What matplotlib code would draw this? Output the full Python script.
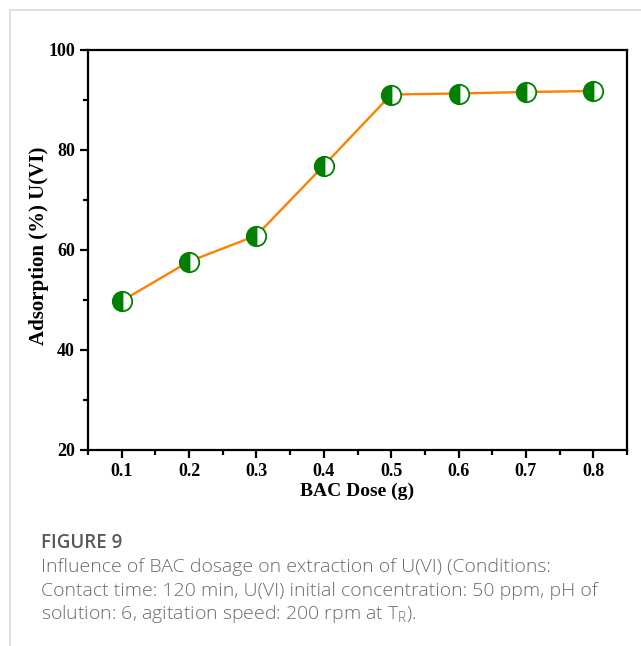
import matplotlib.pyplot as plt
from matplotlib.ticker import MultipleLocator, FormatStrFormatter
from matplotlib.lines import Line2D

# BAC dose vs U(VI) adsorption
dose = [0.1, 0.2, 0.3, 0.4, 0.5, 0.6, 0.7, 0.8]
adsorption = [49.8, 57.7, 62.9, 76.9, 91.1, 91.3, 91.6, 91.8]

caption_title = "FIGURE 9"
caption_lines = [
    "Influence of BAC dosage on extraction of U(VI) (Conditions:",
    "Contact time: 120 min, U(VI) initial concentration: 50 ppm, pH of",
    r"solution: 6, agitation speed: 200 rpm at T$_\mathregular{R}$).",
]

W, H = 641, 646
fig = plt.figure(figsize=(W / 100, H / 100), dpi=100)

# page frame lines (light gray)
fig.add_artist(Line2D([10 / W, 1], [1 - 10 / H, 1 - 10 / H], color="#d9d9d9", lw=1.2))
fig.add_artist(Line2D([10 / W, 10 / W], [0, 1 - 10 / H], color="#d9d9d9", lw=1.2))

ax = fig.add_axes([88 / W, 196 / H, 539 / W, 400 / H])

ax.plot(dose, adsorption, color="#ff8000", lw=1.7, marker="o", markersize=14,
        fillstyle="left", markerfacecolor="#007f00", markerfacecoloralt="white",
        markeredgecolor="#007f00", markeredgewidth=1.3)

ax.set_xlim(0.05, 0.85)
ax.set_ylim(20, 100)
ax.xaxis.set_major_locator(MultipleLocator(0.1))
ax.xaxis.set_minor_locator(MultipleLocator(0.05))
ax.xaxis.set_major_formatter(FormatStrFormatter("%.1f"))
ax.yaxis.set_major_locator(MultipleLocator(20))
ax.yaxis.set_minor_locator(MultipleLocator(10))

for s in ax.spines.values():
    s.set_linewidth(1.6)
ax.tick_params(which="major", direction="out", length=6, width=1.6)
ax.tick_params(which="minor", direction="out", length=3.5, width=1.6)
ax.tick_params(top=False, right=False, which="both")

serif = "Liberation Serif"
for lab in ax.get_xticklabels() + ax.get_yticklabels():
    lab.set_fontfamily(serif)
    lab.set_fontweight("bold")
    lab.set_fontsize(13)

ax.set_xlabel("BAC Dose (g)", fontfamily=serif, fontweight="bold", fontsize=14, labelpad=2)
ax.set_ylabel("Adsorption (%) U(VI)", fontfamily=serif, fontweight="bold", fontsize=15)
ax.yaxis.set_label_coords(-0.072, 0.51)

fig.text(41 / W, 1 - 543 / H, caption_title, fontfamily="Open Sans", fontsize=13.5,
         fontweight="semibold", color="#595959", va="center")
for i, line in enumerate(caption_lines):
    fig.text(41 / W, 1 - (567 + 23.5 * i) / H, line, fontfamily="Open Sans", fontsize=14,
             fontweight="light", color="#6b6b6b", va="center")

fig.savefig("out.png", dpi=100)
